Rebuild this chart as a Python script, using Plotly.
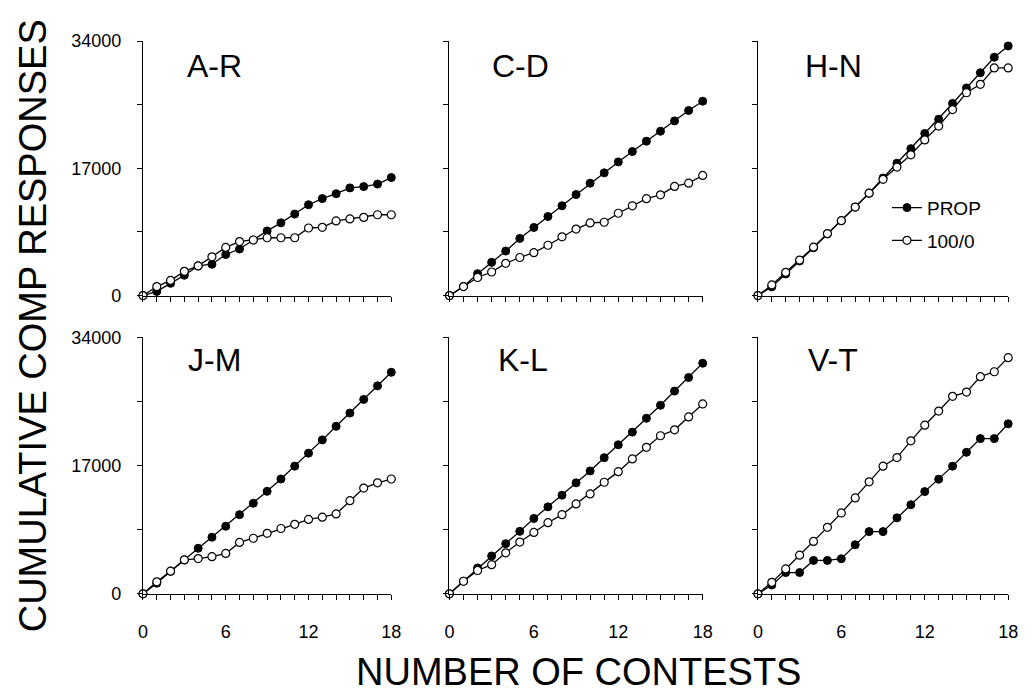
import plotly.graph_objects as go

contests = list(range(19))

panel_names = ["A-R", "C-D", "H-N", "J-M", "K-L", "V-T"]

ar_prop = [0, 560, 1640, 2720, 3970, 4190, 5490, 6220, 7430, 8640, 9720, 10890, 12140, 12960, 13610, 14390, 14560, 14900, 15770]
ar_100 = [0, 1210, 2030, 3240, 3970, 5180, 6440, 7220, 7430, 7730, 7730, 7730, 9030, 9120, 9980, 10240, 10450, 10800, 10800]

cd_prop = [0, 1210, 2930, 4440, 5950, 7640, 9100, 10570, 12000, 13500, 15020, 16400, 17860, 19240, 20630, 21960, 23340, 24720, 25970]
cd_100 = [0, 1210, 2420, 3150, 4310, 5090, 5740, 6730, 7850, 8890, 9710, 9800, 11000, 12000, 12950, 13460, 14580, 15020, 16050]

hn_prop = [0, 1170, 2890, 4620, 6390, 8240, 10010, 11820, 13680, 15710, 17690, 19630, 21660, 23560, 25670, 27740, 29770, 31840, 33350]
hn_100 = [0, 1420, 3110, 4750, 6470, 8280, 10010, 11820, 13680, 15530, 17170, 18810, 20800, 22650, 24850, 27100, 28220, 30410, 30410]

jm_prop = [0, 1410, 3000, 4500, 6040, 7500, 8960, 10500, 12000, 13590, 15220, 16930, 18650, 20410, 22210, 23970, 25770, 27570, 29370]
jm_100 = [0, 1590, 3000, 4500, 4670, 4930, 5360, 6820, 7370, 8020, 8660, 9220, 9860, 10160, 10590, 12350, 14020, 14710, 15220]

kl_prop = [0, 1670, 3430, 5020, 6650, 8280, 9990, 11530, 13080, 14710, 16290, 18050, 19760, 21440, 23280, 24990, 26880, 28680, 30570]
kl_100 = [0, 1670, 3090, 3860, 5440, 6860, 8140, 9430, 10500, 11920, 13250, 14790, 16200, 17880, 19420, 20960, 21740, 23450, 25170]

vt_prop = [0, 1170, 2820, 2820, 4430, 4430, 4650, 6510, 8250, 8250, 10070, 11810, 13550, 15200, 16930, 18760, 20580, 20580, 22540]
vt_100 = [0, 1520, 3300, 5120, 6950, 8810, 10720, 12720, 14850, 16930, 18060, 20280, 22360, 24230, 26180, 26750, 28790, 29440, 31310]

prop_series = [ar_prop, cd_prop, hn_prop, jm_prop, kl_prop, vt_prop]
open_series = [ar_100, cd_100, hn_100, jm_100, kl_100, vt_100]

y_tickvals = [0, 8500, 17000, 25500, 34000]
y_ticktext = ["0", "", "17000", "", "34000"]
x_tickvals = list(range(19))
x_ticktext = [str(v) if v % 6 == 0 else "" for v in x_tickvals]

W, H = 1031, 700
FONT = "Liberation Sans, Arial, sans-serif"

col_px = [(140, 392), (451, 708), (764, 1018)]
row_px = [(32, 294), (337, 601)]
title_cx = [213, 523, 841, 213, 526, 840]
title_cy = [58, 58, 58, 360, 360, 360]

fig = go.Figure()

for i in range(6):
    r, c = divmod(i, 3)
    ax = "" if i == 0 else str(i + 1)
    xa = "x" + ax
    ya = "y" + ax
    fig.add_trace(go.Scatter(
        x=contests, y=prop_series[i], xaxis=xa, yaxis=ya,
        mode="lines+markers", name="PROP", showlegend=(i == 2),
        line=dict(color="black", width=1.3),
        marker=dict(symbol="circle", size=8, color="black", line=dict(color="black", width=1)),
        cliponaxis=False, legendgroup="a",
    ))
    fig.add_trace(go.Scatter(
        x=contests, y=open_series[i], xaxis=xa, yaxis=ya,
        mode="lines+markers", name="100/0", showlegend=(i == 2),
        line=dict(color="black", width=1.3),
        marker=dict(symbol="circle", size=8, color="white", line=dict(color="black", width=1.2)),
        cliponaxis=False, legendgroup="b",
    ))
    x0, x1 = col_px[c]
    y0, y1 = row_px[r]
    common = dict(showgrid=False, zeroline=False, showline=True, linecolor="black", linewidth=1.3,
                  ticks="outside", ticklen=5, tickwidth=1, tickcolor="black",
                  tickfont=dict(family=FONT, size=18, color="black"))
    fig.layout["xaxis" + ax] = dict(
        domain=[x0 / W, x1 / W], range=[0, 18], anchor=ya,
        tickmode="array", tickvals=x_tickvals,
        ticktext=x_ticktext if r == 1 else [""] * 19,
        ticklabelstandoff=16,
        **common)
    fig.layout["yaxis" + ax] = dict(
        domain=[1 - y1 / H, 1 - y0 / H], range=[0, 34000], anchor=xa,
        tickmode="array", tickvals=y_tickvals,
        ticktext=y_ticktext if c == 0 else [""] * 5,
        ticklabelstandoff=12,
        **common)
    fig.add_annotation(text=panel_names[i], x=title_cx[i] / W, y=1 - title_cy[i] / H,
                       xref="paper", yref="paper", showarrow=False,
                       xanchor="center", yanchor="middle",
                       font=dict(family=FONT, size=32, color="black"))

fig.add_annotation(text="CUMULATIVE COMP RESPONSES", x=28 / W, y=1 - 325 / H,
                   xref="paper", yref="paper", showarrow=False, textangle=-90,
                   xanchor="center", yanchor="middle",
                   font=dict(family=FONT, size=38, color="black"))
fig.add_annotation(text="NUMBER OF CONTESTS", x=582 / W, y=1 - 681 / H,
                   xref="paper", yref="paper", showarrow=False,
                   xanchor="center", yanchor="middle",
                   font=dict(family=FONT, size=38, color="black"))

fig.update_layout(
    width=W, height=H,
    margin=dict(l=0, r=0, t=0, b=0),
    paper_bgcolor="white", plot_bgcolor="white",
    showlegend=True,
    legend=dict(x=895 / W, y=1 - 184 / H, xanchor="left", yanchor="top",
                bgcolor="rgba(0,0,0,0)", font=dict(family=FONT, size=19, color="black"),
                itemwidth=30, tracegroupgap=5, traceorder="grouped"),
    font=dict(family=FONT, color="black"),
)

fig.write_html("out.html")
